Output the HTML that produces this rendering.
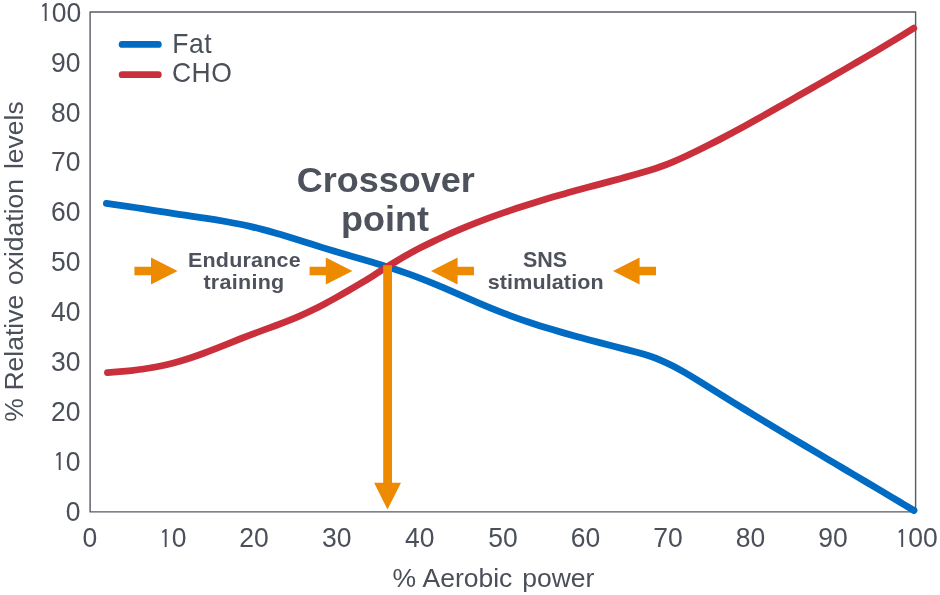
<!DOCTYPE html>
<html lang="en"><head><meta charset="utf-8"><title>Crossover point</title>
<style>html,body{margin:0;padding:0;background:#fff}body{width:940px;height:595px;overflow:hidden}svg{display:block;will-change:transform}text{font-family:"Liberation Sans",sans-serif;fill:#4a4f59}.b text{fill:#4d525c}</style></head><body>
<svg width="940" height="595" viewBox="0 0 940 595">
<rect width="940" height="595" fill="#fff"/>
<rect x="90.1" y="12.0" width="825.5" height="499.9" fill="none" stroke="#555b65" stroke-width="1.4" stroke-linejoin="round"/>
<g font-size="26.5" text-anchor="end">
<text transform="translate(80.4,521.2) scale(1,1.075)">0</text>
<text transform="translate(80.4,470.6) scale(1,1.075)"><tspan text-anchor="start" x="-27.01" y="0.28" font-family="IPAGothic,'Liberation Sans',sans-serif" font-size="23.4">1</tspan><tspan text-anchor="start" x="-14.73" y="0">0</tspan></text>
<text transform="translate(80.4,420.8) scale(1,1.075)">20</text>
<text transform="translate(80.4,370.8) scale(1,1.075)">30</text>
<text transform="translate(80.4,320.8) scale(1,1.075)">40</text>
<text transform="translate(80.4,270.8) scale(1,1.075)">50</text>
<text transform="translate(80.4,221.2) scale(1,1.075)">60</text>
<text transform="translate(80.4,171.4) scale(1,1.075)">70</text>
<text transform="translate(80.4,121.9) scale(1,1.075)">80</text>
<text transform="translate(80.4,71.7) scale(1,1.075)">90</text>
<text transform="translate(81.2,21.5) scale(1,1.075)"><tspan text-anchor="start" x="-41.74" y="0.28" font-family="IPAGothic,'Liberation Sans',sans-serif" font-size="23.4">1</tspan><tspan text-anchor="start" x="-29.47" y="0">00</tspan></text>
</g>
<g font-size="26.5" text-anchor="middle">
<text transform="translate(89.9,547.3) scale(1,1.075)">0</text>
<text transform="translate(171.7,547.3) scale(1,1.075)"><tspan text-anchor="start" x="-12.27" y="0.28" font-family="IPAGothic,'Liberation Sans',sans-serif" font-size="23.4">1</tspan><tspan text-anchor="start" x="0.00" y="0">0</tspan></text>
<text transform="translate(254.1,547.3) scale(1,1.075)">20</text>
<text transform="translate(336.8,547.3) scale(1,1.075)">30</text>
<text transform="translate(419.8,547.3) scale(1,1.075)">40</text>
<text transform="translate(502.9,547.3) scale(1,1.075)">50</text>
<text transform="translate(585.5,547.3) scale(1,1.075)">60</text>
<text transform="translate(668.0,547.3) scale(1,1.075)">70</text>
<text transform="translate(750.6,547.3) scale(1,1.075)">80</text>
<text transform="translate(833.1,547.3) scale(1,1.075)">90</text>
<text transform="translate(915.7,547.3) scale(1,1.075)"><tspan text-anchor="start" x="-19.64" y="0.28" font-family="IPAGothic,'Liberation Sans',sans-serif" font-size="23.4">1</tspan><tspan text-anchor="start" x="-7.37" y="0">00</tspan></text>
</g>
<text y="587.1" font-size="26.5"><tspan x="392.5">% </tspan><tspan x="422.5">Aerobic </tspan><tspan x="522.2">power</tspan></text>
<text transform="translate(23,421.85) rotate(-90)" font-size="26.5"><tspan x="0">% </tspan><tspan x="31.3">Relative </tspan><tspan x="136.8">oxidation </tspan><tspan x="252.8">levels</tspan></text>
<path d="M122.1,44.4H158.3" stroke="#006bc2" stroke-width="6.8" stroke-linecap="round" fill="none"/>
<path d="M122.1,74.7H158.3" stroke="#c9303b" stroke-width="6.8" stroke-linecap="round" fill="none"/>
<text transform="translate(172.3,52.7) scale(1,1.05)" font-size="26.5" textLength="39.3" lengthAdjust="spacing">Fat</text>
<text transform="translate(171.9,82.1) scale(1,1.05)" font-size="26.5" textLength="59.9" lengthAdjust="spacing">CHO</text>
<path d="M106.40,203.46C110.42,203.96 114.44,204.50 118.45,205.06C122.47,205.62 126.49,206.21 130.51,206.82C134.53,207.42 138.54,208.04 142.56,208.67C146.58,209.30 150.60,209.94 154.61,210.57C158.63,211.21 162.65,211.84 166.67,212.46C170.69,213.08 174.70,213.69 178.72,214.28C182.74,214.88 186.76,215.46 190.78,216.05C194.79,216.64 198.81,217.23 202.83,217.83C206.85,218.44 210.87,219.06 214.88,219.70C218.90,220.35 222.92,221.03 226.94,221.74C230.96,222.46 234.97,223.21 238.99,224.02C243.01,224.83 247.03,225.69 251.04,226.62C255.06,227.54 259.08,228.54 263.10,229.60C267.12,230.65 271.13,231.77 275.15,232.93C279.17,234.08 283.19,235.29 287.21,236.52C291.22,237.74 295.24,239.00 299.26,240.27C303.28,241.53 307.30,242.81 311.31,244.09C315.33,245.36 319.35,246.63 323.37,247.88C327.39,249.13 331.40,250.36 335.42,251.56C339.44,252.75 343.46,253.90 347.47,255.04C351.49,256.18 355.51,257.31 359.53,258.46C363.55,259.61 367.56,260.78 371.58,261.97C375.60,263.17 379.62,264.39 383.64,265.64C387.65,266.90 391.67,268.19 395.69,269.52C399.71,270.86 403.73,272.23 407.74,273.66C411.76,275.09 415.78,276.57 419.80,278.11C423.81,279.65 427.83,281.25 431.85,282.89C435.87,284.53 439.89,286.22 443.90,287.93C447.92,289.64 451.94,291.38 455.96,293.13C459.98,294.87 463.99,296.63 468.01,298.38C472.03,300.12 476.05,301.86 480.07,303.57C484.08,305.29 488.10,306.97 492.12,308.62C496.14,310.26 500.16,311.86 504.17,313.40C508.19,314.95 512.21,316.43 516.23,317.86C520.24,319.30 524.26,320.68 528.28,322.02C532.30,323.36 536.32,324.66 540.33,325.92C544.35,327.18 548.37,328.41 552.39,329.61C556.41,330.80 560.42,331.97 564.44,333.12C568.46,334.26 572.48,335.38 576.50,336.48C580.51,337.59 584.53,338.67 588.55,339.74C592.57,340.81 596.59,341.86 600.60,342.91C604.62,343.95 608.64,344.99 612.66,346.02C616.67,347.06 620.69,348.09 624.71,349.12C628.73,350.15 632.75,351.17 636.76,352.25C640.78,353.32 644.80,354.46 648.82,355.77C652.84,357.07 656.85,358.57 660.87,360.29C664.89,362.01 668.91,363.94 672.93,366.01C676.94,368.09 680.96,370.32 684.98,372.65C689.00,374.98 693.01,377.41 697.03,379.88C701.05,382.36 705.07,384.88 709.09,387.39C713.10,389.91 717.12,392.41 721.14,394.90C725.16,397.39 729.18,399.88 733.19,402.35C737.21,404.82 741.23,407.28 745.25,409.73C749.27,412.19 753.28,414.63 757.30,417.07C761.32,419.51 765.34,421.94 769.36,424.36C773.37,426.78 777.39,429.20 781.41,431.61C785.43,434.02 789.44,436.42 793.46,438.82C797.48,441.23 801.50,443.62 805.52,446.01C809.53,448.41 813.55,450.80 817.57,453.18C821.59,455.57 825.61,457.95 829.62,460.34C833.64,462.72 837.66,465.10 841.68,467.48C845.70,469.86 849.71,472.24 853.73,474.63C857.75,477.01 861.77,479.39 865.79,481.77C869.80,484.16 873.82,486.54 877.84,488.93C881.86,491.32 885.87,493.71 889.89,496.11C893.91,498.50 897.93,500.90 901.95,503.30C905.96,505.71 909.98,508.12 914.00,510.53" fill="none" stroke="#006bc2" stroke-width="6.8" stroke-linecap="round" stroke-linejoin="round"/>
<path d="M107.45,372.60C111.46,372.34 115.47,372.04 119.49,371.70C123.50,371.36 127.51,370.98 131.52,370.53C135.53,370.09 139.54,369.58 143.56,369.00C147.57,368.42 151.58,367.76 155.59,367.01C159.60,366.25 163.61,365.41 167.63,364.46C171.64,363.51 175.65,362.44 179.66,361.27C183.67,360.09 187.68,358.82 191.70,357.47C195.71,356.11 199.72,354.68 203.73,353.20C207.74,351.71 211.75,350.17 215.77,348.60C219.78,347.03 223.79,345.44 227.80,343.83C231.81,342.23 235.82,340.62 239.84,339.03C243.85,337.44 247.86,335.87 251.87,334.34C255.88,332.81 259.89,331.33 263.91,329.88C267.92,328.42 271.93,326.98 275.94,325.51C279.95,324.03 283.96,322.53 287.98,320.95C291.99,319.37 296.00,317.70 300.01,315.93C304.02,314.15 308.03,312.26 312.05,310.29C316.06,308.32 320.07,306.27 324.08,304.15C328.09,302.03 332.10,299.85 336.12,297.62C340.13,295.39 344.14,293.13 348.15,290.81C352.16,288.50 356.17,286.14 360.19,283.71C364.20,281.29 368.21,278.81 372.22,276.28C376.23,273.75 380.25,271.19 384.26,268.66C388.27,266.13 392.28,263.63 396.29,261.22C400.30,258.81 404.32,256.49 408.33,254.27C412.34,252.05 416.35,249.91 420.36,247.85C424.37,245.79 428.39,243.80 432.40,241.88C436.41,239.95 440.42,238.08 444.43,236.26C448.44,234.45 452.46,232.68 456.47,230.96C460.48,229.24 464.49,227.56 468.50,225.94C472.51,224.31 476.53,222.72 480.54,221.18C484.55,219.63 488.56,218.13 492.57,216.67C496.58,215.20 500.60,213.77 504.61,212.38C508.62,210.99 512.63,209.63 516.64,208.30C520.65,206.97 524.67,205.67 528.68,204.41C532.69,203.14 536.70,201.89 540.71,200.68C544.72,199.46 548.74,198.27 552.75,197.10C556.76,195.93 560.77,194.78 564.78,193.65C568.79,192.52 572.81,191.40 576.82,190.30C580.83,189.21 584.84,188.12 588.85,187.05C592.86,185.98 596.88,184.91 600.89,183.85C604.90,182.79 608.91,181.72 612.92,180.65C616.93,179.58 620.95,178.49 624.96,177.39C628.97,176.29 632.98,175.16 636.99,174.01C641.00,172.86 645.02,171.68 649.03,170.46C653.04,169.23 657.05,167.94 661.06,166.50C665.08,165.07 669.09,163.49 673.10,161.80C677.11,160.12 681.12,158.33 685.13,156.48C689.15,154.63 693.16,152.73 697.17,150.78C701.18,148.84 705.19,146.85 709.20,144.82C713.22,142.80 717.23,140.73 721.24,138.64C725.25,136.54 729.26,134.41 733.27,132.26C737.29,130.10 741.30,127.92 745.31,125.72C749.32,123.51 753.33,121.29 757.34,119.05C761.36,116.81 765.37,114.55 769.38,112.28C773.39,110.01 777.40,107.73 781.41,105.45C785.43,103.17 789.44,100.88 793.45,98.59C797.46,96.30 801.47,94.01 805.48,91.72C809.50,89.43 813.51,87.15 817.52,84.86C821.53,82.57 825.54,80.28 829.55,77.99C833.57,75.70 837.58,73.40 841.59,71.09C845.60,68.79 849.61,66.48 853.62,64.15C857.64,61.83 861.65,59.50 865.66,57.15C869.67,54.81 873.68,52.45 877.69,50.07C881.71,47.70 885.72,45.31 889.73,42.90C893.74,40.49 897.75,38.06 901.76,35.61C905.78,33.16 909.79,30.69 913.80,28.19" fill="none" stroke="#c9303b" stroke-width="6.8" stroke-linecap="round" stroke-linejoin="round"/>
<polygon points="383.2,265.2 392,265.2 392,482.7 401,482.7 387.5,509.6 374.1,482.7 383.2,482.7" fill="#ee8a00"/>
<polygon points="134.4,266.7 151.0,266.7 151.0,257.6 177.6,271.0 151.0,284.4 151.0,275.3 134.4,275.3" fill="#ee8a00"/>
<polygon points="309.6,266.7 325.8,266.7 325.8,257.6 352.4,271.0 325.8,284.4 325.8,275.3 309.6,275.3" fill="#ee8a00"/>
<polygon points="474.0,266.7 457.6,266.7 457.6,257.6 431.0,271.0 457.6,284.4 457.6,275.3 474.0,275.3" fill="#ee8a00"/>
<polygon points="656.0,266.7 639.6,266.7 639.6,257.6 613.0,271.0 639.6,284.4 639.6,275.3 656.0,275.3" fill="#ee8a00"/>
<g class="b" font-weight="bold" text-anchor="middle">
<text transform="translate(385.8,191.9) scale(1,0.96)" font-size="36">Crossover</text>
<text transform="translate(385.0,231.2) scale(1,0.96)" font-size="36">point</text>
<text transform="translate(244.3,266.5) scale(1,0.97)" font-size="21.5" textLength="112.8" lengthAdjust="spacing">Endurance</text>
<text transform="translate(243.8,288.7) scale(1,0.96)" font-size="21.5" textLength="80.8" lengthAdjust="spacing">training</text>
<text transform="translate(545,266.5) scale(1,1.03)" font-size="21.5">SNS</text>
<text transform="translate(545.7,288.7) scale(1,0.96)" font-size="21.5" textLength="115.9" lengthAdjust="spacing">stimulation</text>
</g>
</svg></body></html>
